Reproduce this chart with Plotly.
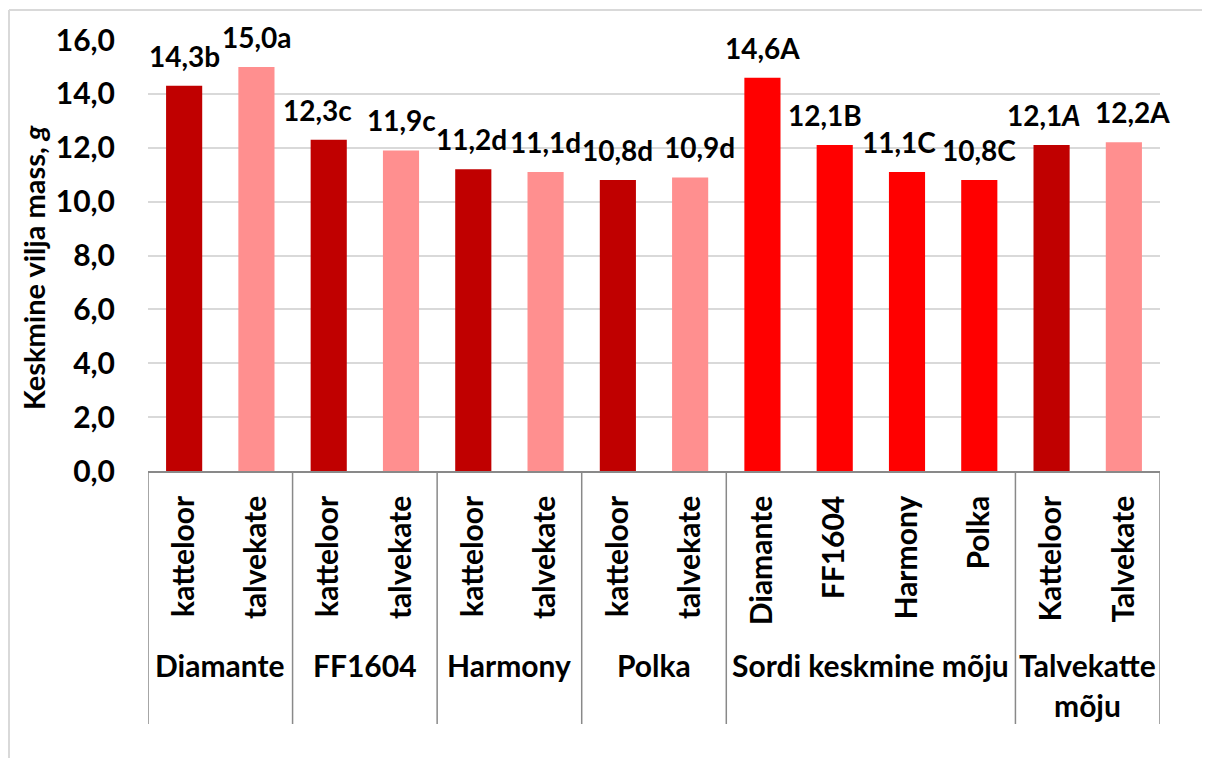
import plotly.graph_objects as go

# ---- data ----
group_labels = ["Diamante", "FF1604", "Harmony", "Polka", "Sordi keskmine mõju", "Talvekatte\nmõju"]
group_sizes = [2, 2, 2, 2, 4, 2]
inner_labels = ["katteloor", "talvekate", "katteloor", "talvekate", "katteloor", "talvekate",
                "katteloor", "talvekate", "Diamante", "FF1604", "Harmony", "Polka",
                "Katteloor", "Talvekate"]
values = [14.3, 15.0, 12.3, 11.9, 11.2, 11.1, 10.8, 10.9, 14.6, 12.1, 11.1, 10.8, 12.1, 12.2]
letters = ["b", "a", "c", "c", "d", "d", "d", "d", "A", "B", "C", "C", "<i>A</i>", "A"]
y_ticks = [0, 2, 4, 6, 8, 10, 12, 14, 16]
y_title = "Keskmine vilja mass, <i>g</i>"

# ---- styles ----
DARK = "#C00000"
PINK = "#FF8F8F"
RED = "#FF0000"
FONT = "Lato"
FS = 30
label_xshift = [0, 0, -11, 0, -2, 0, 0, 9, 0, -10, -8, 0, -8, 9]  # manual label nudges (px)

x = list(range(len(values)))
groups = []
for g, n in zip(group_labels, group_sizes):
    groups += [g] * n

colors = []
for g, lab in zip(groups, inner_labels):
    if g.startswith("Sordi"):
        colors.append(RED)
    elif lab.lower() == "katteloor":
        colors.append(DARK)
    else:
        colors.append(PINK)

fig = go.Figure()
fig.add_bar(x=x, y=values, marker_color=colors, marker_line_width=0, width=0.5,
            hoverinfo="skip")

# plot-area geometry in screen pixels (page body has an 8px margin)
OFF = 8
W, H = 1210, 758
L, R, T, B = 148, 1160, 40, 471
pw, ph = R - L, B - T

def py(p):
    return (B - p) / ph

def px(p):
    return (p - L) / pw

def bold(size=FS):
    return dict(family=FONT, size=size, color="black", weight="bold")

ann = []
for i, (v, let) in enumerate(zip(values, letters)):
    txt = ("%.1f" % v).replace(".", ",") + let
    ann.append(dict(x=i, y=v, xref="x", yref="y", text=txt, showarrow=False,
                    yanchor="bottom", yshift=11, xshift=label_xshift[i], font=bold(28)))

shapes = []
start = 0
bounds = [-0.5]
for g, n in zip(group_labels, group_sizes):
    centre = start + (n - 1) / 2
    for k, line in enumerate(g.split("\n")):
        ann.append(dict(x=centre, y=py(665 + 40 * k), xref="x", yref="paper", text=line,
                        showarrow=False, yanchor="middle", font=bold()))
    start += n
    bounds.append(start - 0.5)

for b in bounds:
    shapes.append(dict(type="line", xref="x", yref="paper", x0=b, x1=b, y0=0, y1=py(724),
                       line=dict(color="#898989", width=1.5)))

# y-axis title
ann.append(dict(x=px(33), y=py(268), xref="paper", yref="paper", text=y_title,
                textangle=-90, showarrow=False, xanchor="center", yanchor="middle",
                font=bold(FS - 1)))

# outer chart border (top and left visible)
shapes.append(dict(type="line", xref="paper", yref="paper", x0=px(9), x1=px(1230),
                   y0=py(10), y1=py(10), line=dict(color="#D9D9D9", width=2)))
shapes.append(dict(type="line", xref="paper", yref="paper", x0=px(9), x1=px(9),
                   y0=py(10), y1=py(775), line=dict(color="#D9D9D9", width=2)))

fig.update_layout(
    width=W, height=H,
    margin=dict(l=L - OFF, r=W - (R - OFF), t=T - OFF, b=H - (B - OFF)),
    paper_bgcolor="white", plot_bgcolor="white",
    separators=", ",
    showlegend=False,
    font=bold(),
    annotations=ann, shapes=shapes,
)
fig.update_xaxes(range=[-0.5, len(values) - 0.5], tickmode="array", tickvals=x,
                 ticktext=inner_labels, tickangle=-90, ticks="", showgrid=False,
                 showline=True, linecolor="#898989", linewidth=1.5, zeroline=False,
                 ticklabelstandoff=11, tickfont=bold())
fig.update_yaxes(range=[0, 16], tickmode="array", tickvals=y_ticks, tickformat=".1f",
                 showgrid=True, gridcolor="#D9D9D9", gridwidth=2, zeroline=False,
                 showline=False, ticks="", ticklabelstandoff=32, tickfont=bold())

fig.write_html("out.html")
